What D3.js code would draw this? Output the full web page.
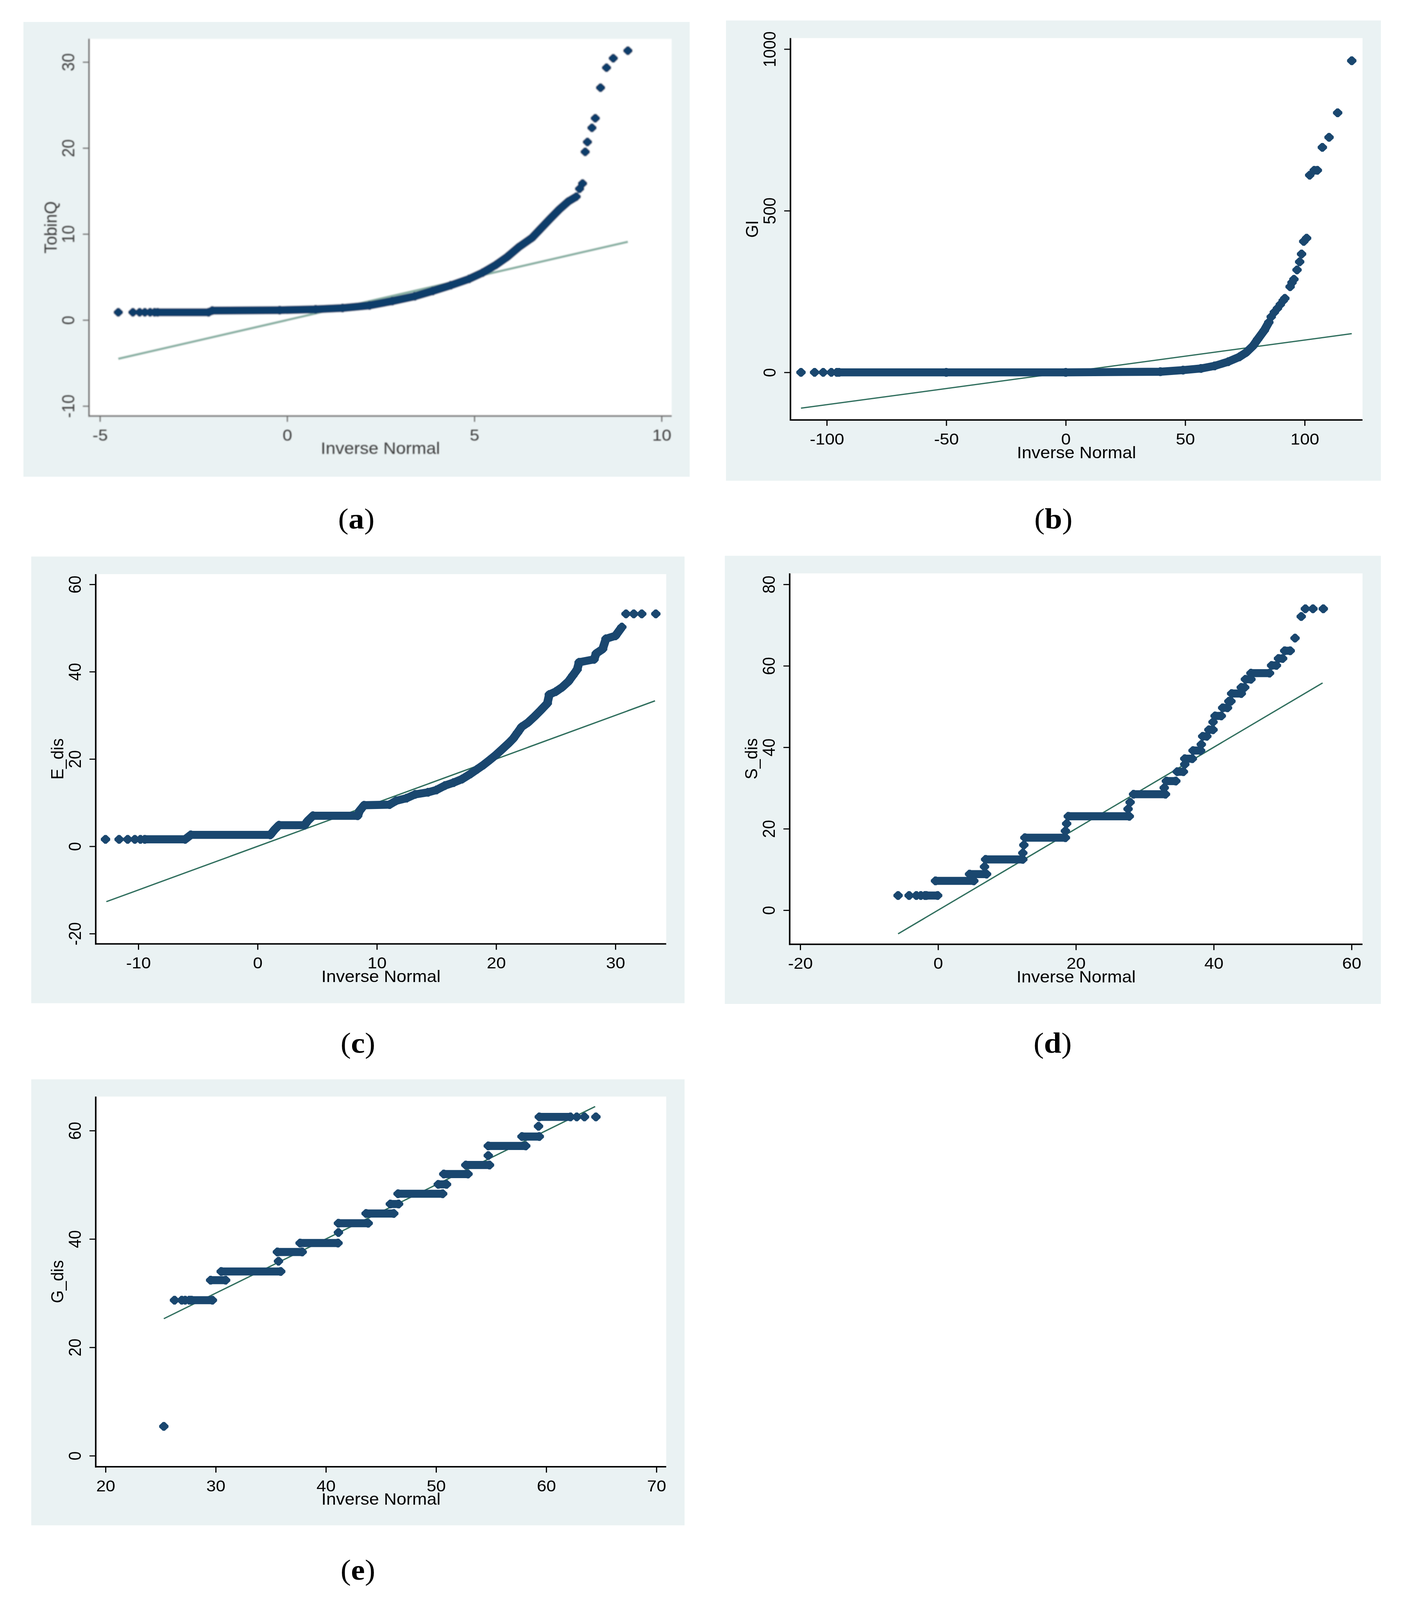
<!DOCTYPE html>
<html>
<head>
<meta charset="utf-8">
<script src="https://cdnjs.cloudflare.com/ajax/libs/d3/7.8.5/d3.min.js"></script>
<style>
  html, body { margin: 0; padding: 0; background: #fff; overflow: hidden; }
  svg { display: block; }
</style>
</head>
<body>
<svg id="fig"></svg>
<script>
// ---- (a) TobinQ ----
const aXTicks = [-5, 0, 5, 10];
const aYTicks = [-10, 0, 10, 20, 30];
const aRef = [-4.51, 9.1];
const aRuns = [
  [[-4.51,0.9]], [[-4.12,0.9]], [[-3.94,0.9]], [[-3.80,0.9]], [[-3.66,0.9]], [[-3.54,0.9]],
  [[-3.46,0.9],[-2.1,0.9],[-2.0,1.1],[-0.2,1.15],[0.76,1.25],[1.48,1.4],[2.2,1.7],[2.81,2.2],
   [3.41,2.76],[3.89,3.38],[4.37,4.04],[4.86,4.78],[5.22,5.51],[5.58,6.43],[5.88,7.35],[6.18,8.46],
   [6.54,9.56],[6.78,10.66],[7.02,11.76],[7.27,12.87],[7.51,13.79],[7.72,14.34]],
  [[7.81,15.26]], [[7.89,15.88]], [[7.96,19.56]], [[8.02,20.7]], [[8.14,22.35]], [[8.23,23.46]],
  [[8.37,27.02]], [[8.53,29.34]], [[8.71,30.44]], [[9.1,31.32]]
];

// ---- (b) GI ----
const bXTicks = [-100, -50, 0, 50, 100];
const bYTicks = [0, 500, 1000];
const bRef = [-110.8, 119.7];
const bRuns = [
  [[-110.8,0]], [[-105.1,0]], [[-101.5,0]], [[-98.1,0]], [[-95.8,0]],
  [[-94.9,0],[-50,0],[0,0],[39.6,2],[49.1,7],[56.6,12],[62.3,20],[68.0,33],[72.7,48],[75.6,62],
   [78.4,82],[80.3,102],[83.1,130],[85.0,155]],
  [[86.0,172]], [[87.3,186]], [[88.6,198]], [[89.8,210]], [[91.0,222]], [[91.7,229]], [[93.9,265]],
  [[94.7,278]], [[95.5,288]], [[96.8,317]], [[97.9,342]], [[98.7,366]], [[99.6,405]], [[100.8,415]],
  [[102.1,610]], [[104.0,625]], [[105.3,625]], [[107.4,696]], [[110.2,727]], [[113.8,803]], [[119.7,964]]
];

// ---- (c) E_dis ----
const cXTicks = [-10, 0, 10, 20, 30];
const cYTicks = [-20, 0, 20, 40, 60];
const cRef = [-12.68, 33.32];
const cRuns = [
  [[-12.75,1.6]], [[-11.61,1.6]], [[-10.89,1.6]], [[-10.29,1.6]], [[-9.82,1.6]],
  [[-9.46,1.6],[-6.07,1.6],[-5.6,2.62],[1.07,2.62],[1.43,3.83],[1.79,4.84],[3.93,4.84],[4.21,5.85],
   [4.64,7.0],[8.39,7.0],[8.57,8.2],[8.93,9.41],[11.07,9.55],[11.61,10.42],[12.5,11.03],[13.21,11.9],
   [14.29,12.37],[15.0,12.91],[15.71,13.92],[16.43,14.59],[17.14,15.39],[17.86,16.61],[18.39,17.61],
   [18.93,18.62],[19.46,19.76],[20.0,20.97],[20.54,22.32],[21.07,23.66],[21.43,24.67],[21.79,26.02],
   [22.14,27.36],[22.68,28.37],[23.21,29.71],[23.75,31.19],[24.29,32.74],[24.46,34.76],[25.0,35.43],
   [25.54,36.44],[26.07,37.78],[26.43,39.13],[26.79,40.47],[26.96,42.15],[28.21,42.82],[28.39,44.17],
   [28.93,45.18],[29.21,47.53],[30.0,48.2],[30.54,50.22]],
  [[30.89,53.24]], [[31.54,53.24]], [[32.21,53.24]], [[33.39,53.24]]
];

// ---- (d) S_dis ----
const dXTicks = [-20, 0, 20, 40, 60];
const dYTicks = [0, 20, 40, 60, 80];
const dRef = [-5.8, 55.8];
const dRuns = [
  [[-5.8,3.6]], [[-4.2,3.6]], [[-3.15,3.6]], [[-2.5,3.6]], [[-1.9,3.6]],
  [[-1.7,3.6],[-0.06,3.6]],
  [[-0.37,7.2],[5.19,7.2]],
  [[4.57,8.86],[7.04,8.86]],
  [[6.74,10.67]],
  [[6.9,12.47],[12.3,12.47]],
  [[12.3,14.05]], [[12.45,16.0]],
  [[12.6,17.8],[18.48,17.8]],
  [[18.48,19.46]], [[18.66,21.26]],
  [[18.9,23.06],[27.75,23.06]],
  [[27.57,24.86]], [[27.87,26.5]],
  [[28.37,28.47],[33.0,28.47]],
  [[32.82,30.05]],
  [[33.13,31.7],[34.5,31.7]],
  [[34.7,34.0],[35.6,34.0]],
  [[35.8,35.8]],
  [[35.8,37.2],[36.9,37.2]],
  [[37.0,39.2],[38.1,39.2]],
  [[38.2,40.7]],
  [[38.4,42.7],[39.0,42.7]],
  [[39.3,44.3],[39.9,44.3]],
  [[39.9,46.2]],
  [[40.2,47.7],[41.1,47.7]],
  [[41.3,49.7],[42.0,49.7]],
  [[42.2,51.3],[42.5,51.3]],
  [[42.6,53.2],[44.0,53.2]],
  [[44.0,54.7],[44.5,54.7]],
  [[44.6,56.7],[45.4,56.7]],
  [[45.4,58.2],[48.1,58.2]],
  [[48.4,60.1],[49.1,60.1]],
  [[49.4,61.8],[50.0,61.8]],
  [[50.3,63.7],[51.1,63.7]],
  [[51.8,66.8]], [[52.7,72.1]], [[53.3,74.0]], [[54.4,74.0]], [[55.9,74.0]]
];

// ---- (e) G_dis ----
const eXTicks = [20, 30, 40, 50, 60, 70];
const eYTicks = [0, 20, 40, 60];
const eRef = [25.29, 64.44];
const eRuns = [
  [[25.29,5.41]],
  [[26.26,28.7]], [[26.92,28.7]], [[27.23,28.7]], [[27.6,28.7]],
  [[27.8,28.7],[29.7,28.7]],
  [[29.54,32.4],[30.9,32.4]],
  [[30.5,34.0],[35.9,34.0]],
  [[35.7,35.9]],
  [[35.6,37.6],[37.85,37.6]],
  [[37.66,39.25],[41.1,39.25]],
  [[41.14,41.2]],
  [[41.14,42.9],[43.84,42.9]],
  [[43.65,44.7],[46.16,44.7]],
  [[45.85,46.45],[46.6,46.45]],
  [[46.55,48.35],[50.6,48.35]],
  [[50.2,50.08],[50.95,50.08]],
  [[50.7,51.98],[52.9,51.98]],
  [[52.7,53.65],[54.85,53.65]],
  [[54.74,55.39]],
  [[54.74,57.17],[58.14,57.17]],
  [[57.8,58.9],[59.37,58.9]],
  [[59.3,60.8]],
  [[59.37,62.53],[62.2,62.53]],
  [[62.77,62.53]], [[63.47,62.53]], [[64.51,62.53]]
];

// figure is laid out on the reference's 3606 x 4370 grid and fitted to the window
const W = 3606, H = 4370;
const svg = d3.select('#fig')
  .attr('viewBox', `0 0 ${W} ${H}`)
  .attr('preserveAspectRatio', 'none')
  .attr('width', window.innerWidth)
  .attr('height', window.innerHeight);
svg.append('rect').attr('width', W).attr('height', H).attr('fill', '#ffffff');

const defs = svg.append('defs');
defs.append('filter').attr('id', 'soft')
  .append('feGaussianBlur').attr('stdDeviation', 1.6);

// Stata's small diamond, slightly blunted at the tips (size = half width)
const blunt = {
  draw(ctx, r) {
    const t = r * 0.22;
    ctx.moveTo(-t, -r);
    ctx.lineTo(t, -r);
    ctx.lineTo(r, -t);
    ctx.lineTo(r, t);
    ctx.lineTo(t, r);
    ctx.lineTo(-t, r);
    ctx.lineTo(-r, t);
    ctx.lineTo(-r, -t);
    ctx.closePath();
  }
};

const panels = [
  { cap: 'a', title: 'TobinQ', runs: aRuns, ref: aRef, xt: aXTicks, yt: aYTicks,
    bg: [60, 60, 1765, 1302], box: [228, 106, 1719, 1136],
    xd: [-5.29, 10.27], yd: [-11.15, 32.7], capPos: [912, 1443],
    font: 44, ink: '#3c3c3c', axis: '#6f6f6f', mark: '#0f3c6a', line: '#8ab1a4', lineW: 6, blur: true },
  { cap: 'b', title: 'GI', runs: bRuns, ref: bRef, xt: bXTicks, yt: bYTicks,
    bg: [1858, 56, 3534, 1313], box: [2023, 104, 3487, 1147],
    xd: [-115.2, 124.2], yd: [-147.2, 1034], capPos: [2696, 1443],
    font: 44, ink: '#000', axis: '#000', mark: '#1a476f', line: '#2f6e5d', lineW: 3.5 },
  { cap: 'c', title: 'E_dis', runs: cRuns, ref: cRef, xt: cXTicks, yt: cYTicks,
    bg: [80, 1520, 1752, 2740], box: [245, 1568, 1705, 2578],
    xd: [-13.57, 34.26], yd: [-22.35, 62.35], capPos: [916, 2875],
    font: 44, ink: '#000', axis: '#000', mark: '#1a476f', line: '#2f6e5d', lineW: 3.5 },
  { cap: 'd', title: 'S_dis', runs: dRuns, ref: dRef, xt: dXTicks, yt: dYTicks,
    bg: [1855, 1518, 3534, 2742], box: [2021, 1566, 3487, 2579],
    xd: [-21.53, 61.59], yd: [-8.36, 82.7], capPos: [2694, 2875],
    font: 44, ink: '#000', axis: '#000', mark: '#1a476f', line: '#2f6e5d', lineW: 3.5 },
  { cap: 'e', title: 'G_dis', runs: eRuns, ref: eRef, xt: eXTicks, yt: eYTicks,
    bg: [80, 2948, 1752, 4166], box: [245, 2995, 1705, 4006],
    xd: [19.11, 70.89], yd: [-2.03, 66.28], capPos: [916, 4314],
    font: 44, ink: '#000', axis: '#000', mark: '#1a476f', line: '#2f6e5d', lineW: 3.5 }
];

panels.forEach(p => drawPanel(p));

function drawPanel(p) {
  const [bx0, by0, bx1, by1] = p.bg;
  const [left, top, right, bottom] = p.box;

  svg.append('rect')
    .attr('x', bx0).attr('y', by0)
    .attr('width', bx1 - bx0).attr('height', by1 - by0)
    .attr('fill', '#eaf2f3');

  const g = svg.append('g');
  if (p.blur) g.attr('filter', 'url(#soft)');

  g.append('rect')
    .attr('x', left).attr('y', top)
    .attr('width', right - left).attr('height', bottom - top)
    .attr('fill', '#ffffff');

  const x = d3.scaleLinear().domain(p.xd).range([left, right]);
  const y = d3.scaleLinear().domain(p.yd).range([bottom, top]);

  // reference line y = x
  g.append('path')
    .datum(p.ref)
    .attr('d', d3.line().x(d => x(d)).y(d => y(d)))
    .attr('fill', 'none')
    .attr('stroke', p.line)
    .attr('stroke-width', p.lineW);

  // dense runs of overlapping markers
  const band = d3.line().x(d => x(d[0])).y(d => y(d[1]));
  g.append('g').selectAll('path')
    .data(p.runs.filter(r => r.length > 1))
    .join('path')
    .attr('d', band)
    .attr('fill', 'none')
    .attr('stroke', p.mark)
    .attr('stroke-width', 22)
    .attr('stroke-linejoin', 'round');

  // markers
  const sym = d3.symbol().type(blunt).size(12);
  g.append('g').selectAll('path')
    .data(p.runs.flat())
    .join('path')
    .attr('d', sym)
    .attr('transform', d => `translate(${x(d[0])},${y(d[1])})`)
    .attr('fill', p.mark);

  // axes
  const fmt = d => String(d);
  const xAxis = d3.axisBottom(x).tickValues(p.xt).tickFormat(fmt)
    .tickSize(16).tickSizeOuter(0).tickPadding(20);
  const xg = g.append('g').attr('transform', `translate(0,${bottom})`).call(xAxis);
  const yAxis = d3.axisLeft(y).tickValues(p.yt).tickFormat(fmt)
    .tickSize(16).tickSizeOuter(0);
  const yg = g.append('g').attr('transform', `translate(${left},0)`).call(yAxis);

  [xg, yg].forEach(a => {
    a.select('.domain').attr('stroke', p.axis).attr('stroke-width', 4);
    a.selectAll('.tick line').attr('stroke', p.axis).attr('stroke-width', 3);
    a.selectAll('text')
      .attr('fill', p.ink)
      .attr('font-family', 'Liberation Sans, Arial, sans-serif')
      .attr('font-size', p.font);
  });
  // y axis runs up to the top of the plot region
  yg.select('.domain').attr('d', `M0,${bottom + 2}V${top}`);
  xg.select('.domain').attr('d', `M${left - 2},0H${right}`);

  yg.selectAll('text')
    .attr('transform', 'rotate(-90)')
    .attr('x', 0).attr('y', -53)
    .attr('dy', '0.35em')
    .attr('text-anchor', 'middle');

  // axis titles
  g.append('text')
    .attr('x', (left + right) / 2).attr('y', bottom + 104)
    .attr('text-anchor', 'middle')
    .attr('font-family', 'Liberation Sans, Arial, sans-serif')
    .attr('font-size', p.font + 1)
    .attr('fill', p.ink)
    .text('Inverse Normal');

  g.append('text')
    .attr('transform', `translate(${left - 99},${(top + bottom) / 2}) rotate(-90)`)
    .attr('dy', '0.35em')
    .attr('text-anchor', 'middle')
    .attr('font-family', 'Liberation Sans, Arial, sans-serif')
    .attr('font-size', p.font + 1)
    .attr('fill', p.ink)
    .text(p.title);

  // caption
  const cap = svg.append('text')
    .attr('x', p.capPos[0]).attr('y', p.capPos[1])
    .attr('text-anchor', 'middle')
    .attr('font-family', 'Liberation Serif, Times New Roman, serif')
    .attr('font-size', 80)
    .attr('fill', '#000');
  cap.append('tspan').text('(');
  cap.append('tspan').attr('font-weight', 'bold').text(p.cap);
  cap.append('tspan').text(')');
}
</script>
</body>
</html>
